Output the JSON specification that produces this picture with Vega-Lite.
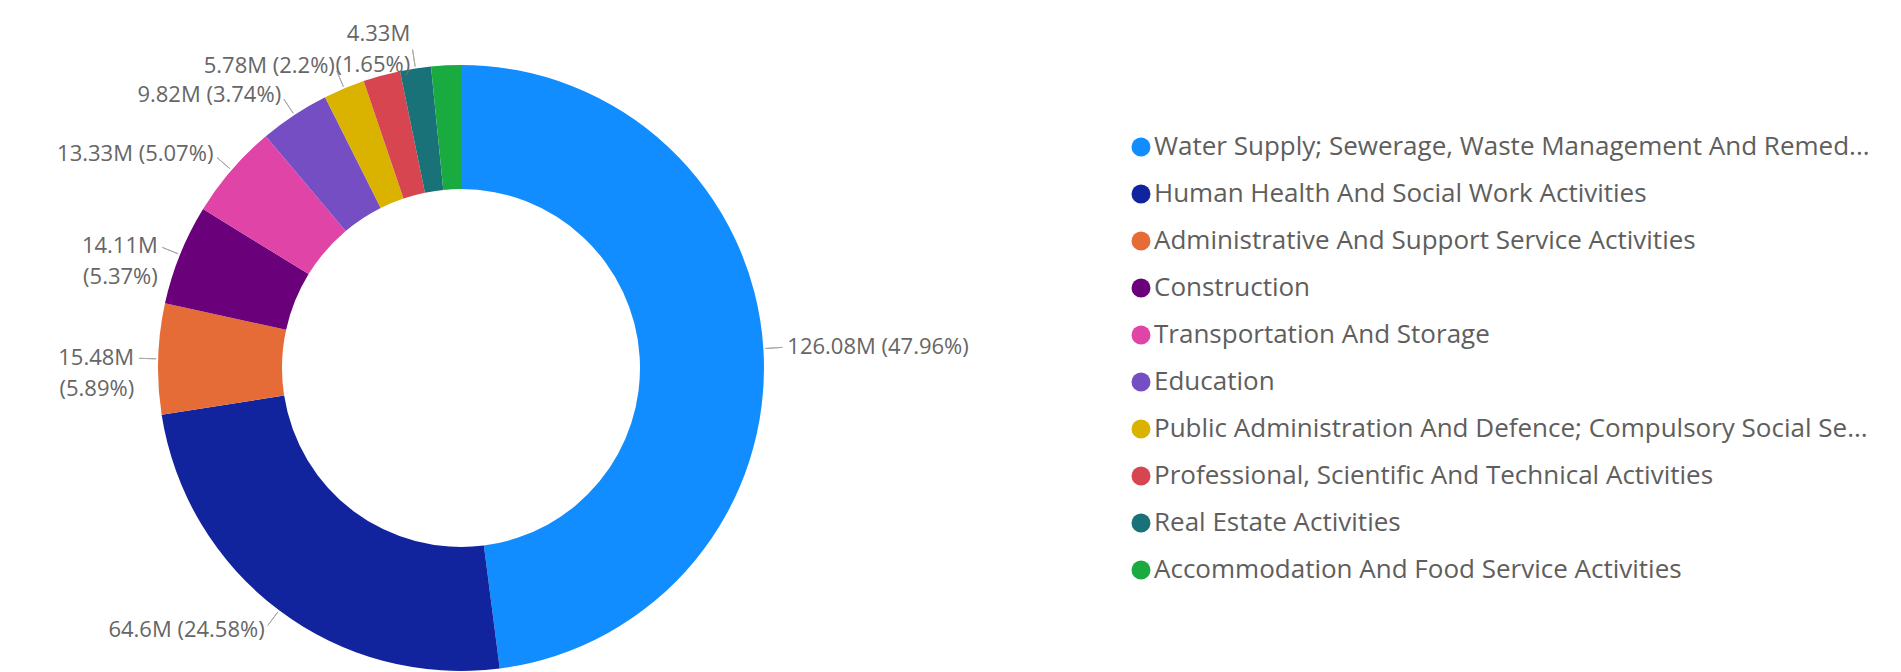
{
  "$schema": "https://vega.github.io/schema/vega-lite/v6.json",
  "width": 922,
  "height": 608,
  "autosize": {"type": "none"},
  "padding": {"left": 0, "top": 64, "right": 979, "bottom": 0},
  "background": "white",
  "config": {"view": {"stroke": null}, "font": "Open Sans"},
  "data": {
    "values": [
      {"category": "Water Supply; Sewerage, Waste Management And Remediation Activities", "value": 126.08, "pct": 47.96},
      {"category": "Human Health And Social Work Activities", "value": 64.6, "pct": 24.58},
      {"category": "Administrative And Support Service Activities", "value": 15.48, "pct": 5.89},
      {"category": "Construction", "value": 14.11, "pct": 5.37},
      {"category": "Transportation And Storage", "value": 13.33, "pct": 5.07},
      {"category": "Education", "value": 9.82, "pct": 3.74},
      {"category": "Public Administration And Defence; Compulsory Social Security", "value": 5.78, "pct": 2.2},
      {"category": "Professional, Scientific And Technical Activities", "value": 5.2, "pct": 1.98},
      {"category": "Real Estate Activities", "value": 4.33, "pct": 1.65},
      {"category": "Accommodation And Food Service Activities", "value": 4.15, "pct": 1.58}
    ]
  },
  "transform": [
    {"stack": "value", "groupby": [], "sort": [{"field": "value", "order": "descending"}], "offset": "normalize", "as": ["f0", "f1"]},
    {"calculate": "(datum.f0 + datum.f1) / 2", "as": "fm"},
    {"calculate": "format(datum.value, '.2~f') + 'M'", "as": "vtxt"},
    {"calculate": "'(' + format(datum.pct, '.2~f') + '%)'", "as": "ptxt"},
    {"calculate": "(datum.fm > 0.7 && datum.fm < 0.85) || datum.fm > 0.97 ? [datum.vtxt, datum.ptxt] : datum.vtxt + ' ' + datum.ptxt", "as": "label"}
  ],
  "layer": [
    {
      "mark": {"type": "arc", "outerRadius": 303, "innerRadius": 179},
      "encoding": {
        "theta": {"field": "f0", "type": "quantitative", "scale": {"domain": [0, 1]}},
        "theta2": {"field": "f1"},
        "color": {
          "field": "category",
          "type": "nominal",
          "sort": {"field": "value", "order": "descending"},
          "scale": {
            "domain": [
              "Water Supply; Sewerage, Waste Management And Remediation Activities",
              "Human Health And Social Work Activities",
              "Administrative And Support Service Activities",
              "Construction",
              "Transportation And Storage",
              "Education",
              "Public Administration And Defence; Compulsory Social Security",
              "Professional, Scientific And Technical Activities",
              "Real Estate Activities",
              "Accommodation And Food Service Activities"
            ],
            "range": ["#118DFF", "#12239E", "#E66C37", "#6B007B", "#E044A7", "#744EC2", "#D9B300", "#D64550", "#197278", "#1AAB40"]
          },
          "legend": {
            "title": null,
            "orient": "none",
            "legendX": 1128,
            "legendY": 70,
            "symbolType": "circle",
            "symbolSize": 360,
            "symbolStrokeWidth": 0,
            "labelFont": "Open Sans",
            "labelFontSize": 26,
            "labelColor": "#605E5C",
            "labelLimit": 722,
            "labelOffset": 0,
            "rowPadding": 21,
            "encode": {"labels": {"update": {"ellipsis": {"value": "..."}}}}
          }
        }
      }
    },
    {
      "transform": [{"filter": "datum.category !== 'Professional, Scientific And Technical Activities' && datum.category !== 'Accommodation And Food Service Activities'"}],
      "mark": {"type": "arc", "outerRadius": 322, "innerRadius": 305, "filled": false, "stroke": "#A8A8A8", "strokeWidth": 1},
      "encoding": {
        "theta": {"field": "fm", "type": "quantitative", "scale": {"domain": [0, 1]}},
        "theta2": {"field": "fm"}
      }
    },
    {
      "transform": [
        {"filter": "datum.category !== 'Professional, Scientific And Technical Activities' && datum.category !== 'Accommodation And Food Service Activities'"},
        {"filter": "datum.fm < 0.5"}
      ],
      "mark": {"type": "text", "radius": 327, "align": "left", "baseline": "middle", "fontSize": 22, "font": "Open Sans", "color": "#666666", "lineHeight": 31},
      "encoding": {
        "theta": {"field": "fm", "type": "quantitative", "scale": {"domain": [0, 1]}},
        "text": {"field": "label"}
      }
    },
    {
      "transform": [
        {"filter": "datum.category !== 'Professional, Scientific And Technical Activities' && datum.category !== 'Accommodation And Food Service Activities'"},
        {"filter": "datum.fm >= 0.5 && datum.fm < 0.95"}
      ],
      "mark": {"type": "text", "radius": 327, "align": "right", "baseline": "middle", "fontSize": 22, "font": "Open Sans", "color": "#666666", "lineHeight": 31},
      "encoding": {
        "theta": {"field": "fm", "type": "quantitative", "scale": {"domain": [0, 1]}},
        "text": {"field": "label"}
      }
    },
    {
      "transform": [
        {"filter": "datum.category !== 'Professional, Scientific And Technical Activities' && datum.category !== 'Accommodation And Food Service Activities'"},
        {"filter": "datum.fm >= 0.95"}
      ],
      "mark": {"type": "text", "radius": 338, "align": "right", "baseline": "middle", "fontSize": 22, "font": "Open Sans", "color": "#666666", "lineHeight": 31},
      "encoding": {
        "theta": {"field": "fm", "type": "quantitative", "scale": {"domain": [0, 1]}},
        "text": {"field": "label"}
      }
    }
  ]
}
